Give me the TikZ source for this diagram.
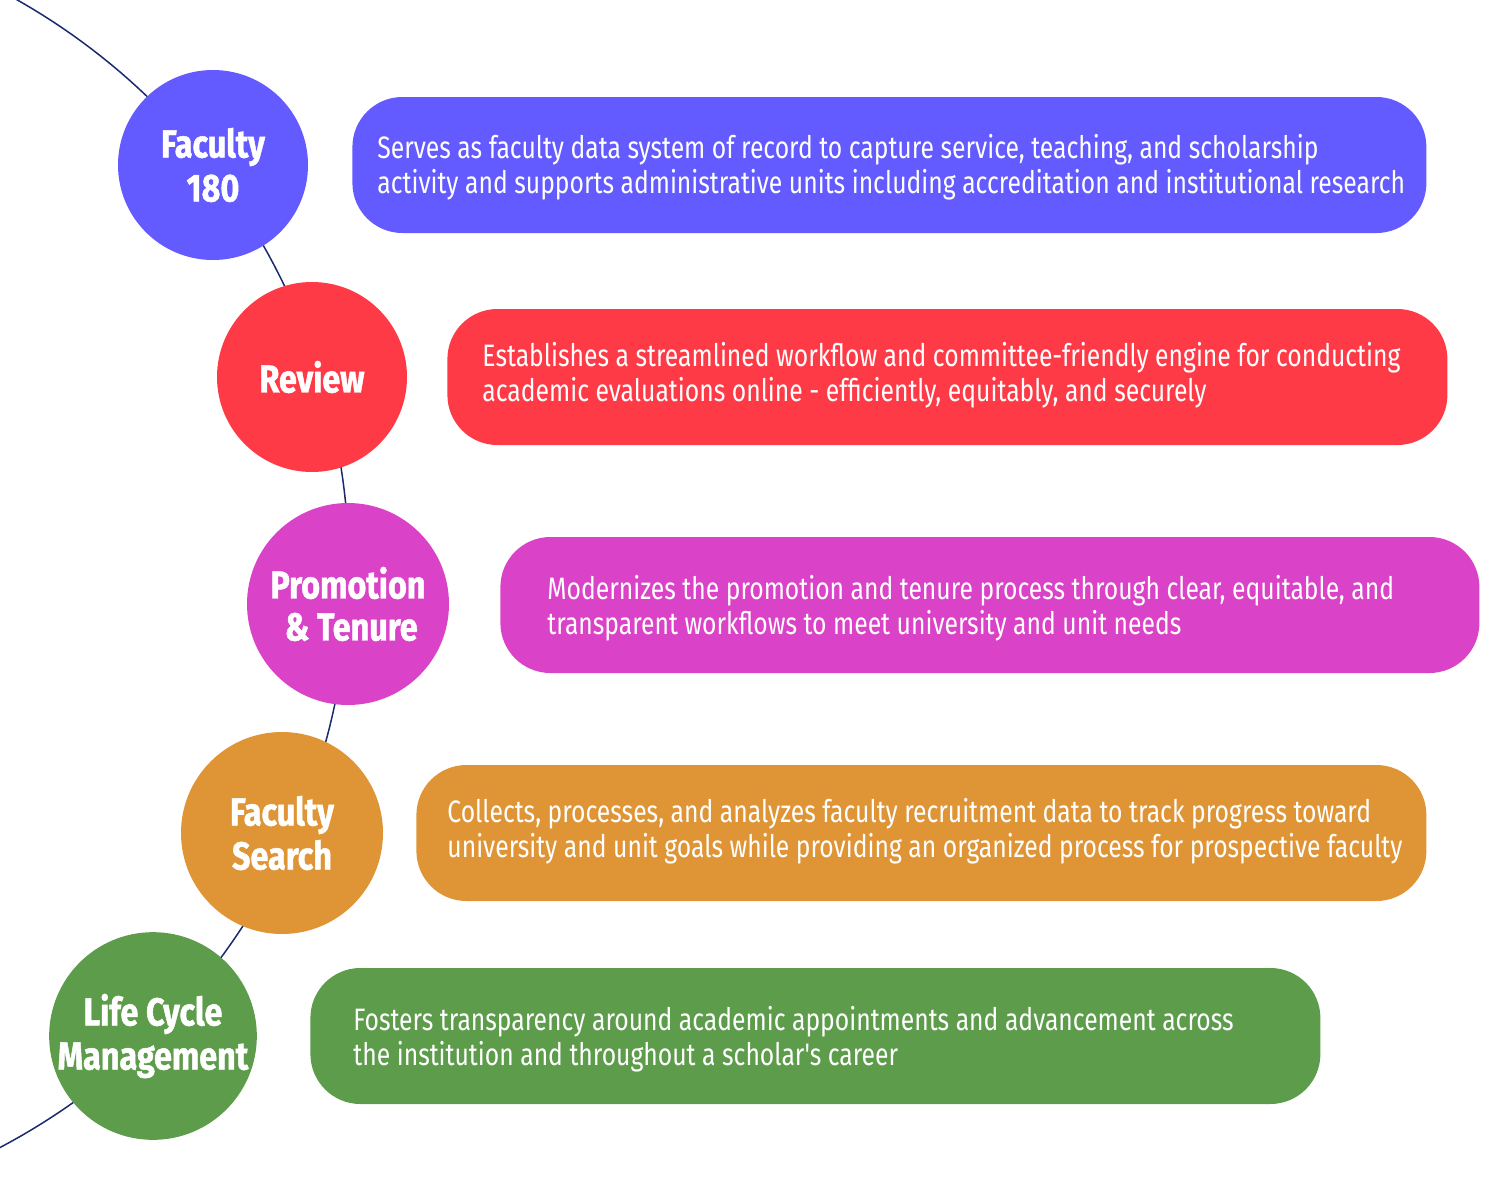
\documentclass[tikz,border=0pt]{standalone}
\usepackage{fontspec}
\setmainfont[FakeStretch=0.8]{Fira Sans}
\newfontfamily\descfont[FakeStretch=0.797]{Fira Sans}
\newfontfamily\headfont[FakeStretch=0.83,FakeBold=1.2]{Fira Sans}
\definecolor{cpurple}{HTML}{635AFF}
\definecolor{cred}{HTML}{FF3A47}
\definecolor{cmagenta}{HTML}{DA42C8}
\definecolor{corange}{HTML}{DF9535}
\definecolor{cgreen}{HTML}{5C9C4A}
\definecolor{cline}{HTML}{1A2A6C}
\begin{document}
\begin{tikzpicture}[x=0.5pt,y=-0.5pt,
  hub/.style={circle, minimum size=95pt, inner sep=0pt, text=white, align=center,
    font=\headfont\bfseries\fontsize{19.5}{22}\selectfont},
  card/.style={rounded corners=25pt, minimum height=68pt, inner sep=0pt, anchor=west},
  desc/.style={anchor=west, inner sep=0pt, text=white, align=left,
    font=\descfont\fontsize{15.5}{17.5}\selectfont},
  arcline/.style={draw=cline, line width=0.75pt}]
\useasboundingbox (0,0) rectangle (1500,1200);
\begin{scope}
\clip (0,0) rectangle (1500,1200);
\draw[arcline] plot[domain=-61:63, samples=120] ({-305+654*cos(\x)}, {569+654*sin(\x)});
\end{scope}
% hubs
\node[hub, fill=cpurple] (h1) at (213,165) {Faculty\\180};
\node[hub, fill=cred] (h2) at (312,377) {Review};
\node[hub, fill=cmagenta, minimum size=101pt] (h3) at (348,604) {Promotion\\[-1pt]\,\& Tenure};
\node[hub, fill=corange, minimum size=101pt] (h4) at (282,833) {Faculty\\Search};
\node[hub, fill=cgreen, minimum size=102pt] (h5) at (153,1036) {Life Cycle\\Management};
% cards
\node[card, fill=cpurple, minimum width=537pt] (b1) at (352,165) {};
\node[card, fill=cred, minimum width=500pt] (b2) at (447,377) {};
\node[card, fill=cmagenta, minimum width=489.5pt] (b3) at (500,605) {};
\node[card, fill=corange, minimum width=505pt] (b4) at (416,833) {};
\node[card, fill=cgreen, minimum width=505pt] (b5) at (310,1036) {};
% texts
\node[desc] (t1) at (377,167) {Serves as faculty data system of record to capture service, teaching, and scholarship\\activity and supports administrative units including accreditation and institutional research};
\node[desc] (t2) at (482,375) {Establishes a streamlined workflow and committee-friendly engine for conducting\\academic evaluations online - efficiently, equitably, and securely};
\node[desc] (t3) at (547,608) {Modernizes the promotion and tenure process through clear, equitable, and\\transparent workflows to meet university and unit needs};
\node[desc] (t4) at (447,831) {Collects, processes, and analyzes faculty recruitment data to track progress toward\\university and unit goals while providing an organized process for prospective faculty};
\node[desc] (t5) at (353,1039) {Fosters transparency around academic appointments and advancement across\\the institution and throughout a scholar's career};
\end{tikzpicture}
\end{document}
